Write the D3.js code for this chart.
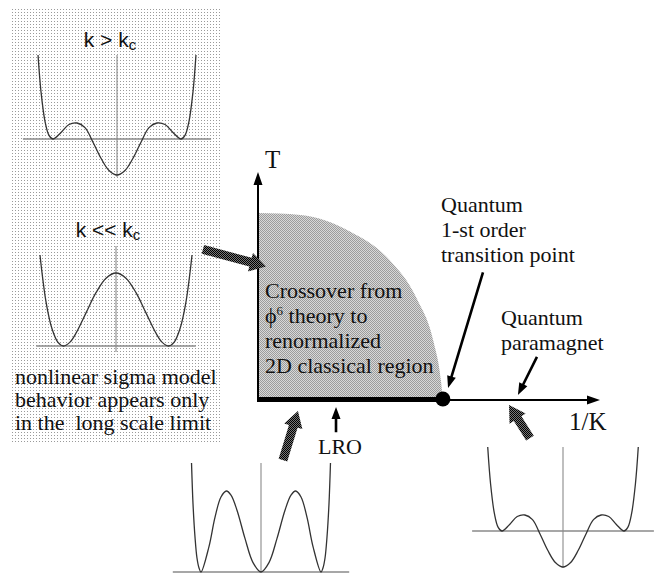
<!DOCTYPE html>
<html><head><meta charset="utf-8">
<script src="https://cdn.jsdelivr.net/npm/d3@7"></script>
<style>body{margin:0;background:#fff} text{white-space:pre}</style>
</head><body><div id="graph"></div>
<script>
"use strict"
// potential k > kc (also the quantum paramagnet side), right half, mirrored when drawn
var phiHigh=[0,.125,.25,.375,.5,.625,.75,.875,1,1.0625,1.125,1.1875,1.234]
var vHigh=[-36,-31.5,-19.3,-3.2,11.4,16,14.5,6.5,0,3.6,17.6,47.3,84]
// potential k << kc
var phiLow=[0,.19,.381,.571,.762,.876,1,1.105,1.219,1.333,1.448]
var vLow=[73,67.8,53.3,33.1,12.8,3.9,0,3.6,17.2,44.2,91]
// three degenerate minima (LRO line)
var phiLro=[0,.133,.267,.4,.5,.577,.667,.767,.867,1,1.033,1.067,1.1,1.133,1.158]
var vLro=[0,9.4,33.6,61.8,76.9,81,75,54.6,25.4,0,4,14,35,68,109]
// crossover region boundary, (1/K, T)
var boundK=[0,.23,.5,.71,.86,.95,.99,1]
var boundT=[1,.99,.9,.75,.54,.31,.1,0]
var transitionK=1
var crossoverLines=['Crossover from','\u03d5|6| theory to','renormalized','2D classical region']
var sigmaLines=['nonlinear sigma model','behavior appears only','in the  long scale limit']

var SERIF='"Liberation Serif","Times New Roman",serif'
var SANS='"Liberation Sans",Arial,sans-serif'

var svg=d3.select('#graph').append('svg').attr('width',657).attr('height',573)
var defs=svg.append('defs')

// textures
var pd=defs.append('pattern').attr('id','dots').attr('width',3).attr('height',3).attr('patternUnits','userSpaceOnUse')
pd.append('rect').attr('width',3).attr('height',3).attr('fill','#fff')
pd.append('rect').attr('width',1).attr('height',1).attr('fill','#9a9a9a')
var ps=defs.append('pattern').attr('id','shade').attr('width',2).attr('height',2).attr('patternUnits','userSpaceOnUse')
ps.append('rect').attr('width',2).attr('height',2).attr('fill','#d8d8d8')
ps.append('rect').attr('width',1).attr('height',1).attr('fill','#9c9c9c')
ps.append('rect').attr('x',1).attr('y',1).attr('width',1).attr('height',1).attr('fill','#9c9c9c')
var ph=defs.append('pattern').attr('id','hatch').attr('width',2).attr('height',2).attr('patternUnits','userSpaceOnUse')
ph.append('rect').attr('width',2).attr('height',2).attr('fill','#777')
ph.append('rect').attr('width',1).attr('height',1).attr('fill','#000')
ph.append('rect').attr('x',1).attr('y',1).attr('width',1).attr('height',1).attr('fill','#000')

// left panel background
svg.append('rect').attr('x',12).attr('y',9).attr('width',209).attr('height',434).attr('fill','url(#dots)')

function mirror(phi,v){
  var pts=[]
  for(var i=phi.length-1;i>0;i--) pts.push([-phi[i],v[i]])
  for(var j=0;j<phi.length;j++) pts.push([phi[j],v[j]])
  return pts
}

// one small potential plot
function drawWell(phi,v,cx,unit,baseY,xExt,vTop,vBot){
  var x=d3.scaleLinear().domain([-1,1]).range([cx-unit,cx+unit])
  var y=d3.scaleLinear().domain([0,100]).range([baseY,baseY-100])
  var g=svg.append('g')
  g.append('line').attr('x1',x(-xExt)).attr('x2',x(xExt)).attr('y1',y(0)).attr('y2',y(0))
    .attr('stroke','#8a8a8a').attr('stroke-width',1.3)
  g.append('line').attr('x1',x(0)).attr('x2',x(0)).attr('y1',y(vTop)).attr('y2',y(vBot))
    .attr('stroke','#8a8a8a').attr('stroke-width',1.1)
  var line=d3.line().x(function(d){return x(d[0])}).y(function(d){return y(d[1])}).curve(d3.curveCatmullRom)
  g.append('path').attr('d',line(mirror(phi,v))).attr('fill','none').attr('stroke','#333').attr('stroke-width',1.3)
}

drawWell(phiHigh,vHigh,117,64,139,1.47,84,-38)
drawWell(phiLow,vLow,116,52.5,346,1.52,100,-6)
drawWell(phiLro,vLro,261,60,572,1.47,109,0)
drawWell(phiHigh,vHigh,563,61,531,1.49,84,-37)

function kLabel(txt,cx,by){
  var t=svg.append('text').attr('x',cx).attr('y',by).attr('text-anchor','middle')
    .attr('font-family',SANS).attr('font-size',21).attr('fill','#111')
  t.append('tspan').text(txt)
  t.append('tspan').attr('font-size',15).attr('dy',3).text('c')
}
kLabel('k > k',110,47)
kLabel('k << k',108,237)

svg.selectAll('.sigma').data(sigmaLines).enter().append('text').attr('class','sigma')
  .attr('x',15).attr('y',function(d,i){return 384+i*23})
  .attr('font-family',SERIF).attr('font-size',22).attr('fill','#111').text(function(d){return d})

// phase diagram
var x=d3.scaleLinear().domain([0,1.85]).range([258,600])
var y=d3.scaleLinear().domain([0,1.22]).range([400,172])

var area=d3.area().x(function(d,i){return x(boundK[i])}).y0(y(0)).y1(function(d){return y(d)}).curve(d3.curveMonotoneX)
svg.append('path').attr('d',area(boundT)).attr('fill','url(#shade)')

function arrowPoly(p0,p1,w,hw,hl){
  var dx=p1[0]-p0[0],dy=p1[1]-p0[1],L=Math.sqrt(dx*dx+dy*dy)
  var ux=dx/L,uy=dy/L,nx=-uy,ny=ux
  var bx=p1[0]-ux*hl,by=p1[1]-uy*hl
  return [[p0[0]+nx*w/2,p0[1]+ny*w/2],[bx+nx*w/2,by+ny*w/2],[bx+nx*hw/2,by+ny*hw/2],p1,
    [bx-nx*hw/2,by-ny*hw/2],[bx-nx*w/2,by-ny*w/2],[p0[0]-nx*w/2,p0[1]-ny*w/2]]
}
function pt(d){return [x(d[0]),y(d[1])]}

// axes
svg.append('polygon').attr('points',arrowPoly([x(0),y(0)],[x(0),y(1.22)],2,9,13).join(' ')).attr('fill','#000')
svg.append('polygon').attr('points',arrowPoly([x(0),y(0)],[x(1.85),y(0)],2,9,13).join(' ')).attr('fill','#000')
svg.append('line').attr('x1',x(0)-1).attr('x2',x(transitionK)).attr('y1',y(0)-0.5).attr('y2',y(0)-0.5)
  .attr('stroke','#000').attr('stroke-width',5)
svg.append('circle').attr('cx',x(transitionK)).attr('cy',y(0)-1).attr('r',7.5).attr('fill','#000')

// thin pointers, (1/K, T) units
var thinArrows=[[[1.217,.683],[1.028,.064]],[[1.509,.231],[1.406,.027]],[[.422,-.172],[.422,-.038]]]
thinArrows.forEach(function(a){
  svg.append('polygon').attr('points',arrowPoly(pt(a[0]),pt(a[1]),2.6,9,12).join(' ')).attr('fill','#000')
})
// textured arrows
var fatArrows=[[[-.298,.806],[.043,.715]],[[.135,-.322],[.216,-.059]],[[1.471,-.204],[1.358,-.027]]]
fatArrows.forEach(function(a){
  svg.append('polygon').attr('points',arrowPoly(pt(a[0]),pt(a[1]),9,19,16).join(' ')).attr('fill','url(#hatch)')
})

function label(txt,px,py,size){
  return svg.append('text').attr('x',px).attr('y',py).attr('font-family',SERIF).attr('font-size',size||22)
    .attr('fill','#111').text(txt)
}
label('T',265,168,25)
label('1/\u039a',569,430,25)
label('LRO',318,454)
label('Quantum',441,212)
label('1-st order',441,237)
label('transition point',441,262)
label('Quantum',501,325)
label('paramagnet',501,350)

crossoverLines.forEach(function(s,i){
  var t=svg.append('text').attr('x',265).attr('y',298+i*25).attr('font-family',SERIF).attr('font-size',22).attr('fill','#111')
  var parts=s.split('|')
  t.append('tspan').text(parts[0])
  if(parts.length>1){
    t.append('tspan').attr('font-size',13).attr('dy',-8).text(parts[1])
    t.append('tspan').attr('dy',8).text(parts[2])
  }
})
</script>
</body></html>
